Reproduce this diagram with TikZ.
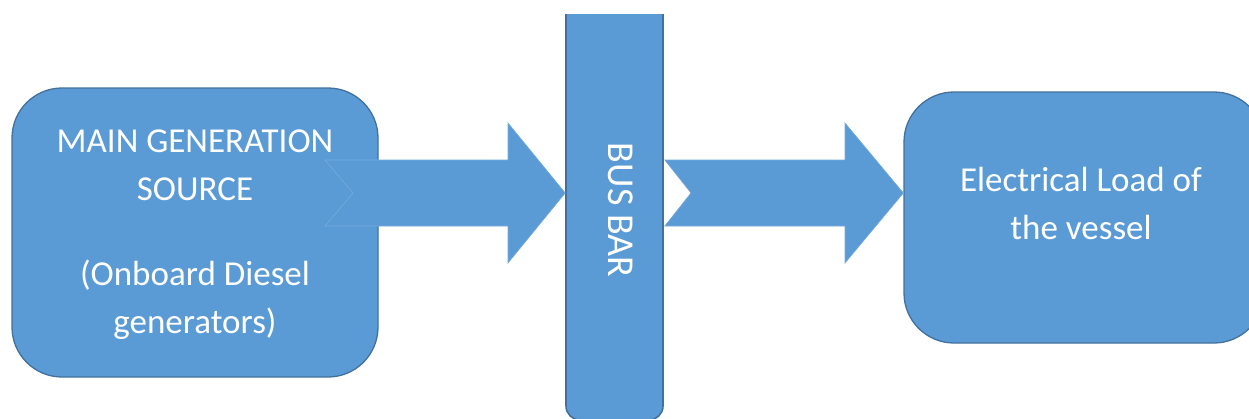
\documentclass[tikz,border=0pt]{standalone}
\usepackage{fontspec}
\setmainfont{Carlito}
\usetikzlibrary{calc}
\definecolor{boxfill}{HTML}{5B9BD5}
\definecolor{boxline}{HTML}{41719C}
\tikzset{
  blockbox/.style={draw=boxline, line width=1.3pt, fill=boxfill, rounded corners=50pt, inner sep=0pt},
  busbox/.style={draw=boxline, line width=1.6pt, fill=boxfill, rounded corners=14pt, inner sep=0pt},
  label/.style={text=white, font=\fontsize{35}{48}\selectfont, align=center, inner sep=0pt},
  fatarrow/.style={fill=boxfill, draw=boxfill!85!white, line width=0.6pt, line join=miter}
}
\begin{document}
\begin{tikzpicture}[x=1pt, y=-1pt]
\useasboundingbox (0,0) rectangle (1249,418);
\clip (0,14) rectangle (1249,418);
% left box
\node[blockbox, minimum width=366pt, minimum height=289pt] (src) at (195,232.5) {};
\node[label] (srctext) at (195,235) {MAIN GENERATION\\SOURCE\\[37pt](Onboard Diesel\\generators)};
% bus bar
\node[busbox, minimum width=97pt, minimum height=450pt] (bus) at (614.5,195) {};
\node[label, rotate=-90, font=\fontsize{38}{48}\selectfont] (bustext) at (621,210) {BUS BAR};
% right box
\node[blockbox, minimum width=360pt, minimum height=251pt] (load) at (1084,217.5) {};
\node[label] (loadtext) at (1081,203) {Electrical Load of\\the vessel};
% arrow 1
\coordinate (a1tip) at (bus.west |- 0,193);
\draw[fatarrow] (325,160) -- (508,160) -- (508,123) -- (a1tip) -- (508,263) -- (508,226) -- (325,226) -- (353,193) -- cycle;
% arrow 2
\coordinate (a2tip) at (load.west |- 0,193);
\draw[fatarrow] ($(bus.east |- 0,160)+(1,0)$) -- (845,160) -- (845,123) -- (a2tip) -- (845,263) -- (845,226) -- ($(bus.east |- 0,226)+(1,0)$) -- (691,193) -- cycle;
\end{tikzpicture}
\end{document}
